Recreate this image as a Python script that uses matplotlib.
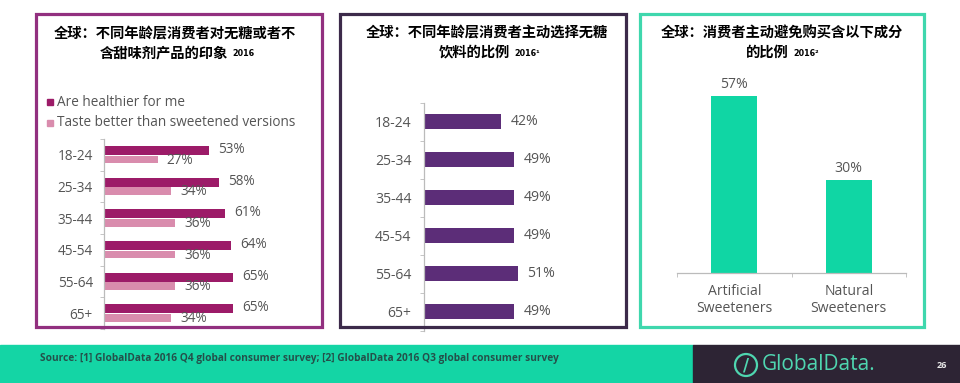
import matplotlib.pyplot as plt
import numpy as np
from matplotlib.patches import Rectangle, Ellipse

plt.rcParams['font.family'] = ['Open Sans', 'Noto Sans CJK SC', 'DejaVu Sans']

W, H = 960, 383

age_groups = ["18-24", "25-34", "35-44", "45-54", "55-64", "65+"]
healthier = [53, 58, 61, 64, 65, 65]
taste_better = [27, 34, 36, 36, 36, 34]
choose_sugar_free = [42, 49, 49, 49, 51, 49]
ingredients = ["Artificial\nSweeteners", "Natural\nSweeteners"]
avoid_share = [57, 30]

legend_labels = ["Are healthier for me", "Taste better than sweetened versions"]
source_text = ("Source: [1] GlobalData 2016 Q4 global consumer survey; "
               "[2] GlobalData 2016 Q3 global consumer survey")

GRAY = "#555555"
AXIS = "#bbbbbb"
CJK = ['Noto Sans CJK SC', 'DejaVu Sans']
FS = 9.8


def box(x0, y0, x1, y1):
    # pixel box (top-left origin) -> figure fraction
    return [x0 / W, 1 - y1 / H, (x1 - x0) / W, (y1 - y0) / H]


def ftext(fig, x, y, s, **kw):
    return fig.text(x / W, 1 - y / H, s, **kw)


def frame(fig, x0, y0, x1, y1, color):
    fig.add_artist(Rectangle((x0 / W, 1 - y1 / H), (x1 - x0) / W, (y1 - y0) / H,
                             transform=fig.transFigure, fill=False, ec=color, lw=2.3))


def title(fig, cx, line1, line2, line2_end, suffix):
    ftext(fig, cx, 34, line1, ha="center", va="center", fontsize=10.3,
          fontweight="bold", family=CJK, color="black")
    ftext(fig, line2_end, 53, line2, ha="right", va="center", fontsize=10.3,
          fontweight="bold", family=CJK, color="black")
    ftext(fig, line2_end + 4, 54, suffix, ha="left", va="center", fontsize=5.8,
          fontweight="bold", family=['DejaVu Sans'], color="black")


def clean_axis(ax, keep):
    for side in ["top", "right", "left", "bottom"]:
        ax.spines[side].set_visible(side == keep)
    ax.spines[keep].set_color(AXIS)
    ax.spines[keep].set_linewidth(0.9)
    ax.set_facecolor("none")


def panel_impression(fig):
    dark, light = "#9c1b68", "#d98cad"
    frame(fig, 36, 14, 322, 327, "#92307f")
    title(fig, 175, "全球：不同年龄层消费者对无糖或者不", "含甜味剂产品的印象", 228, "2016")

    for i, (lab, col) in enumerate(zip(legend_labels, [dark, light])):
        yy = 102 + 21 * i
        fig.add_artist(Rectangle((47 / W, 1 - (yy + 3) / H), 6 / W, 6 / H,
                                 transform=fig.transFigure, color=col))
        ftext(fig, 57, yy, lab, ha="left", va="center", fontsize=FS, color=GRAY)

    ax = fig.add_axes(box(104, 139, 318, 329))
    y = np.arange(len(age_groups))
    ax.barh(y - 0.14, healthier, height=0.28, color=dark)
    ax.barh(y + 0.15, taste_better, height=0.24, color=light)
    for yi, v in zip(y, healthier):
        ax.annotate(f"{v}%", (v, yi - 0.17), xytext=(6.5, 0), textcoords="offset points",
                    ha="left", va="center", fontsize=FS, color=GRAY)
    for yi, v in zip(y, taste_better):
        ax.annotate(f"{v}%", (v, yi + 0.17), xytext=(6.5, 0), textcoords="offset points",
                    ha="left", va="center", fontsize=FS, color=GRAY)
    ax.set_xlim(0, 108)
    ax.set_ylim(5.5, -0.5)
    ax.set_xticks([])
    ax.set_yticks(y, age_groups)
    ax.set_yticks(np.arange(-0.5, 6, 1), minor=True)
    ax.tick_params(axis="y", which="major", length=0, pad=8, labelsize=FS, labelcolor=GRAY)
    ax.tick_params(axis="y", which="minor", length=3, color=AXIS)
    clean_axis(ax, "left")


def panel_choice(fig):
    bar = "#5c2d78"
    frame(fig, 340, 14, 626, 327, "#3c2a4a")
    title(fig, 487, "全球：不同年龄层消费者主动选择无糖", "饮料的比例", 510, "2016¹")

    ax = fig.add_axes(box(424, 102.5, 620, 330.5))
    y = np.arange(len(age_groups))
    ax.barh(y, choose_sugar_free, height=0.37, color=bar)
    for yi, v in zip(y, choose_sugar_free):
        ax.annotate(f"{v}%", (v, yi), xytext=(7, 0), textcoords="offset points",
                    ha="left", va="center", fontsize=FS + 0.3, color=GRAY)
    ax.set_xlim(0, 106.5)
    ax.set_ylim(5.5, -0.5)
    ax.set_xticks([])
    ax.set_yticks(y, age_groups)
    ax.set_yticks(np.arange(-0.5, 6, 1), minor=True)
    ax.tick_params(axis="y", which="major", length=0, pad=9, labelsize=FS + 0.3,
                   labelcolor=GRAY)
    ax.tick_params(axis="y", which="minor", length=3, color=AXIS)
    clean_axis(ax, "left")


def panel_avoid(fig):
    bar = "#10d6a4"
    frame(fig, 640, 14, 924, 327, "#3fd7ad")
    title(fig, 782, "全球：消费者主动避免购买含以下成分", "的比例", 789, "2016²")

    ax = fig.add_axes(box(677, 80, 906, 273))
    x = np.arange(len(ingredients))
    ax.bar(x, avoid_share, width=0.4, color=bar)
    for xi, v in zip(x, avoid_share):
        ax.annotate(f"{v}%", (xi, v), xytext=(0, 3), textcoords="offset points",
                    ha="center", va="bottom", fontsize=FS + 0.3, color=GRAY)
    ax.set_xlim(-0.5, 1.5)
    ax.set_ylim(0, 62.3)
    ax.set_yticks([])
    ax.set_xticks(x, ingredients)
    ax.set_xticks([-0.5, 0.5, 1.5], minor=True)
    ax.tick_params(axis="x", which="major", length=0, pad=8, labelsize=FS + 0.3,
                   labelcolor=GRAY)
    ax.tick_params(axis="x", which="minor", length=3, color=AXIS)
    for lab in ax.get_xticklabels():
        lab.set_linespacing(1.15)
    clean_axis(ax, "bottom")


def footer(fig):
    mint = "#4fd6b0"
    fig.add_artist(Rectangle((0, 0), 693 / W, (H - 345) / H,
                             transform=fig.transFigure, color="#14d5a5"))
    fig.add_artist(Rectangle((693 / W, 0), (W - 693) / W, (H - 345) / H,
                             transform=fig.transFigure, color="#2d2434"))
    ftext(fig, 40, 358, source_text, ha="left", va="center", fontsize=7.3,
          fontweight="bold", color="#24504a")
    fig.add_artist(Ellipse((746 / W, 1 - 365 / H), 22 / W, 22 / H,
                           transform=fig.transFigure, fill=False, ec=mint, lw=1.6))
    ftext(fig, 746, 365, "/", ha="center", va="center", fontsize=12, color=mint,
          fontweight="bold", family=['DejaVu Sans'])
    ftext(fig, 762, 365, "GlobalData.", ha="left", va="center", fontsize=15, color=mint)
    ftext(fig, 942, 365, "26", ha="center", va="center", fontsize=6.5, fontweight="bold",
          color="#e8e8e8")


fig = plt.figure(figsize=(W / 100, H / 100), dpi=100)
fig.patch.set_facecolor("white")
panel_impression(fig)
panel_choice(fig)
panel_avoid(fig)
footer(fig)
plt.savefig("out.png", dpi=100)
plt.close()
